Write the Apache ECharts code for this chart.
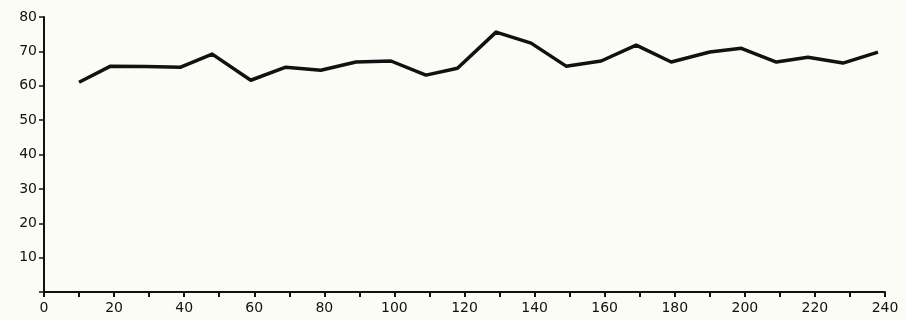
<!DOCTYPE html>
<html>
<head>
<meta charset="utf-8">
<script src="https://cdn.jsdelivr.net/npm/echarts@6/dist/echarts.min.js"></script>
<style>
html,body{margin:0;padding:0;background:#fcfcf6;}
#chart{width:905px;height:320px;}
</style>
</head>
<body>
<div id="chart"></div>
<script>
var xValues = [10, 19, 29, 39, 48, 59, 69, 79, 89, 99, 109, 118, 129, 139, 149, 159, 169, 179, 190, 199, 209, 218, 228, 238];//x轴位置
var yValues = [61.0, 65.7, 65.6, 65.4, 69.2, 61.6, 65.4, 64.5, 66.9, 67.2, 63.1, 65.1, 75.6, 72.4, 65.7, 67.2, 71.8, 66.9, 69.8, 70.9, 66.9, 68.3, 66.6, 69.8];//曲线值
var yTicks = [10, 20, 30, 40, 50, 60, 70, 80];//y轴刻度

var lineData = new Array();
for (var i = 0; i < xValues.length; i++) {
    lineData.push([xValues[i], yValues[i]]);
}

var myChart = echarts.init(document.getElementById('chart'));
var option = {
    backgroundColor: '#fcfcf6',
    animation: false,
    grid: {
        left: 44,
        right: 20,
        top: 17,
        bottom: 28
    },
    xAxis: {
        type: 'value',
        min: 0,
        max: 240,
        interval: 10,
        axisLine: {lineStyle: {color: '#111', width: 2}},
        axisTick: {length: 5, lineStyle: {color: '#111', width: 2}},
        splitLine: {show: false},
        axisLabel: {
            color: '#111',
            fontSize: 14,
            fontFamily: 'DejaVu Sans',
            margin: 9,
            formatter: function (v) {
                return v % 20 == 0 ? String(v) : '';
            }
        }
    },
    yAxis: {
        type: 'value',
        min: 0,
        max: yTicks[yTicks.length - 1],
        interval: 10,
        axisLine: {show: true, lineStyle: {color: '#111', width: 2}},
        axisTick: {show: true, length: 5, lineStyle: {color: '#111', width: 1.5}},
        splitLine: {show: false},
        axisLabel: {
            color: '#111',
            fontSize: 14,
            fontFamily: 'DejaVu Sans',
            margin: 7,
            formatter: function (v) {
                return yTicks.indexOf(v) >= 0 ? String(v) : '';
            }
        }
    },
    series: [
        {
            type: 'line',
            data: lineData,
            showSymbol: false,
            lineStyle: {color: '#111', width: 3.5, join: 'round'}
        }
    ]
};
myChart.setOption(option);
</script>
</body>
</html>
